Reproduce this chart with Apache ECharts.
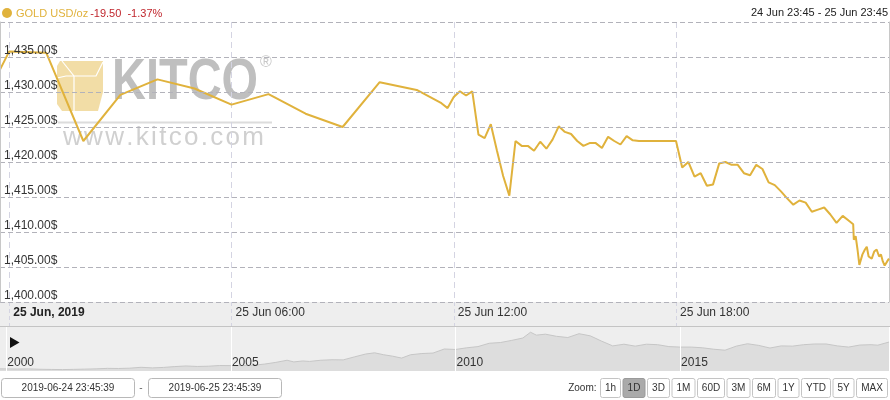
<!DOCTYPE html>
<html><head><meta charset="utf-8">
<script src="https://cdn.jsdelivr.net/npm/echarts@6/dist/echarts.min.js"></script>
<style>html,body{margin:0;padding:0;background:#fff}#c{width:890px;height:400px}</style>
</head><body><div id="c"></div>
<script>
// ---- Data ----
const priceTimes = [
 '2019-06-24 23:45','2019-06-25 00:00','2019-06-25 01:00','2019-06-25 02:00','2019-06-25 03:00',
 '2019-06-25 04:00','2019-06-25 05:00','2019-06-25 06:00','2019-06-25 07:00','2019-06-25 08:00',
 '2019-06-25 09:00','2019-06-25 10:00','2019-06-25 11:00','2019-06-25 11:40','2019-06-25 11:50',
 '2019-06-25 12:00','2019-06-25 12:10','2019-06-25 12:20','2019-06-25 12:30','2019-06-25 12:40',
 '2019-06-25 12:50','2019-06-25 13:00','2019-06-25 13:10','2019-06-25 13:20','2019-06-25 13:30',
 '2019-06-25 13:40','2019-06-25 13:50','2019-06-25 14:00','2019-06-25 14:10','2019-06-25 14:20',
 '2019-06-25 14:30','2019-06-25 14:40','2019-06-25 14:50','2019-06-25 15:00','2019-06-25 15:10',
 '2019-06-25 15:20','2019-06-25 15:30','2019-06-25 15:40','2019-06-25 15:50','2019-06-25 16:00',
 '2019-06-25 16:10','2019-06-25 16:20','2019-06-25 16:30','2019-06-25 16:40','2019-06-25 16:50',
 '2019-06-25 17:00','2019-06-25 18:00','2019-06-25 18:10','2019-06-25 18:20','2019-06-25 18:30',
 '2019-06-25 18:40','2019-06-25 18:50','2019-06-25 19:00','2019-06-25 19:10','2019-06-25 19:20',
 '2019-06-25 19:30','2019-06-25 19:40','2019-06-25 19:50','2019-06-25 20:00','2019-06-25 20:10',
 '2019-06-25 20:20','2019-06-25 20:30','2019-06-25 20:40','2019-06-25 20:50','2019-06-25 21:00',
 '2019-06-25 21:10','2019-06-25 21:20','2019-06-25 21:30','2019-06-25 21:40','2019-06-25 21:50',
 '2019-06-25 22:00','2019-06-25 22:10','2019-06-25 22:20','2019-06-25 22:30','2019-06-25 22:40',
 '2019-06-25 22:47','2019-06-25 22:48','2019-06-25 22:51','2019-06-25 22:54','2019-06-25 22:57',
 '2019-06-25 22:59','2019-06-25 23:02','2019-06-25 23:06','2019-06-25 23:09','2019-06-25 23:12',
 '2019-06-25 23:17','2019-06-25 23:21','2019-06-25 23:25','2019-06-25 23:29','2019-06-25 23:32',
 '2019-06-25 23:35','2019-06-25 23:38','2019-06-25 23:42','2019-06-25 23:45'
];
const priceValues = [
 1433.2,1435.8,1435.6,1423.0,1429.6,
 1431.8,1430.5,1428.2,1429.7,1426.9,
 1425.0,1431.4,1430.3,1428.4,1427.7,
 1429.3,1430.1,1429.5,1430.1,1423.9,
 1423.4,1425.4,1421.6,1418.0,1415.2,
 1423.0,1422.3,1422.3,1421.6,1422.9,
 1421.9,1423.2,1425.1,1424.3,1424.0,
 1423.0,1422.3,1422.7,1422.7,1422.0,
 1423.6,1423.0,1422.5,1423.7,1423.1,
 1423.0,1423.0,1419.2,1420.0,1417.9,
 1418.4,1416.6,1416.8,1419.8,1420.0,
 1419.6,1419.6,1418.4,1418.1,1419.6,
 1419.0,1417.1,1416.7,1415.8,1414.8,
 1413.9,1414.5,1414.2,1412.9,1413.2,
 1413.5,1412.5,1411.3,1412.3,1411.6,
 1411.1,1408.9,1409.4,1407.5,1405.3,
 1405.3,1406.8,1407.5,1407.9,1406.5,
 1406.2,1407.2,1407.5,1406.5,1406.8,
 1405.8,1405.2,1405.8,1406.2
];
const xRange = ['2019-06-24 23:45','2019-06-25 23:45'];
const xTickTimes = ['2019-06-25 00:00','2019-06-25 06:00','2019-06-25 12:00','2019-06-25 18:00'];
const xTickLabels = ['25 Jun, 2019','25 Jun 06:00','25 Jun 12:00','25 Jun 18:00'];
const yMin = 1400, yMax = 1440, yStep = 5;

const navRange = [1999.86, 2019.65];
const navYears = [
 1999.86,2000.0,2000.25,2000.5,2000.75,2001.0,2001.25,2001.5,2001.75,2002.0,2002.25,2002.5,2002.75,
 2003.0,2003.25,2003.5,2003.75,2004.0,2004.25,2004.5,2004.75,2005.0,2005.25,2005.5,2005.75,
 2006.0,2006.25,2006.4,2006.6,2006.75,2007.0,2007.25,2007.5,2007.75,2008.0,2008.2,2008.4,2008.6,2008.8,
 2009.0,2009.25,2009.5,2009.75,2010.0,2010.25,2010.5,2010.75,2011.0,2011.25,2011.5,2011.67,2011.8,2012.0,
 2012.25,2012.5,2012.75,2013.0,2013.25,2013.5,2013.75,2014.0,2014.25,2014.5,2014.75,2015.0,
 2015.25,2015.5,2015.75,2016.0,2016.25,2016.5,2016.75,2017.0,2017.25,2017.5,2017.75,2018.0,
 2018.25,2018.5,2018.75,2019.0,2019.25,2019.4,2019.65
];
const navPrices = [
 290,288,282,288,272,265,260,268,278,290,310,305,318,
 355,330,350,385,410,390,400,430,425,428,440,490,
 560,650,580,620,600,650,670,665,790,910,960,880,820,740,
 880,930,950,1120,1100,1170,1220,1360,1390,1480,1580,1820,1700,1740,
 1650,1600,1760,1670,1450,1250,1320,1240,1320,1300,1220,1200,
 1200,1170,1110,1070,1240,1340,1270,1160,1250,1240,1300,1330,
 1330,1250,1200,1285,1300,1280,1410
];
const navTickYears = [2000, 2005, 2010, 2015];
const navYearLabels = ['2000','2005','2010','2015'];

const seriesName = 'GOLD USD/oz';
const changeText = '-19.50  -1.37%';
const rangeText = '24 Jun 23:45 - 25 Jun 23:45';
const fromInput = '2019-06-24 23:45:39';
const toInput = '2019-06-25 23:45:39';
const zoomButtons = ['1h','1D','3D','1M','60D','3M','6M','1Y','YTD','5Y','MAX'];
const activeButton = '1D';

// ---- Helpers ----
function toTs(s){
  const [d,t] = s.split(' ');
  const [Y,M,D] = d.split('-').map(Number);
  const [h,m] = t.split(':').map(Number);
  return Date.UTC(Y,M-1,D,h,m);
}
const FONT = 'Liberation Sans, Arial, sans-serif';
const GOLD = '#e0b23c';
const mctx = document.createElement('canvas').getContext('2d');
function tw(text, size, weight){ mctx.font = (weight||'normal')+' '+size+'px '+FONT; return mctx.measureText(text).width; }

const mainData = priceTimes.map((t,i)=>[toTs(t), priceValues[i]]);
const navData = navYears.map((y,i)=>[y, navPrices[i]]);
const tickVals = xTickTimes.map(toTs);

// ---- Graphics (decoration/UI) ----
const g = [];
g.push({type:'rect', z:-10, shape:{x:0,y:302,width:890,height:24}, style:{fill:'#eeeeee'}});
g.push({type:'line', z:-9, shape:{x1:0,y1:326.5,x2:890,y2:326.5}, style:{stroke:'#c4c4c4',lineWidth:1}});
// header
g.push({type:'circle', z:10, shape:{cx:7,cy:13,r:5}, style:{fill:GOLD}});
g.push({type:'text', z:10, x:16, y:14, style:{text:seriesName, fill:GOLD, font:'11px '+FONT, verticalAlign:'middle'}});
g.push({type:'text', z:10, x:16+tw(seriesName,11)+2, y:14, style:{text:changeText, fill:'#c0262d', font:'11px '+FONT, verticalAlign:'middle'}});
g.push({type:'text', z:10, x:888, y:13, style:{text:rangeText, fill:'#222', font:'11px '+FONT, align:'right', verticalAlign:'middle'}});
// watermark
g.push({type:'polygon', z:-5, shape:{points:[[60,61],[103,61],[103,92],[98,111],[62,111],[57,104],[57,66]]}, style:{fill:'#f1d99c', opacity:0.9}});
g.push({type:'polyline', z:-5, shape:{points:[[74,111],[74,76],[96,76],[103,62]]}, style:{stroke:'#fff', lineWidth:1.2, fill:null}});
g.push({type:'polyline', z:-5, shape:{points:[[57,78],[66,76],[74,76]]}, style:{stroke:'#fff', lineWidth:1.2, fill:null}});
g.push({type:'polyline', z:-5, shape:{points:[[74,76],[66,66],[62,61]]}, style:{stroke:'#fff', lineWidth:1.2, fill:null}});
g.push({type:'text', z:-5, x:112, y:83, scaleX:0.81, style:{text:'KITCO', fill:'#bfbfbf', font:'bold 58px '+FONT, verticalAlign:'middle'}});
g.push({type:'text', z:-5, x:260, y:63, style:{text:'®', fill:'#c8c8c8', font:'16px '+FONT, verticalAlign:'middle'}});
g.push({type:'rect', z:-5, shape:{x:58,y:121.5,width:214,height:2}, style:{fill:'#dcdcdc'}});
(function(){
  const s = 'www.kitco.com'; let x = 63;
  for (const ch of s){
    g.push({type:'text', z:-5, x:x, y:138, style:{text:ch, fill:'#d0d0d0', font:'26px '+FONT, verticalAlign:'middle'}});
    x += tw(ch,26) + 2.3;
  }
})();
// navigator play icon
g.push({type:'polygon', z:10, shape:{points:[[10,337],[19.5,342.5],[10,348]]}, style:{fill:'#111'}});
// date inputs
g.push({type:'rect', z:10, shape:{x:1.5,y:378.5,width:133,height:19,r:3}, style:{fill:'#fff',stroke:'#b8b8b8'}});
g.push({type:'text', z:10, x:68, y:388.5, style:{text:fromInput, fill:'#333', font:'10px '+FONT, align:'center', verticalAlign:'middle'}});
g.push({type:'text', z:10, x:141, y:388.5, style:{text:'-', fill:'#666', font:'10px '+FONT, align:'center', verticalAlign:'middle'}});
g.push({type:'rect', z:10, shape:{x:148.5,y:378.5,width:133,height:19,r:3}, style:{fill:'#fff',stroke:'#b8b8b8'}});
g.push({type:'text', z:10, x:215, y:388.5, style:{text:toInput, fill:'#333', font:'10px '+FONT, align:'center', verticalAlign:'middle'}});
// zoom buttons
(function(){
  let right = 887.5;
  const boxes = [];
  for (let i = zoomButtons.length-1; i>=0; i--){
    const w = Math.round(tw(zoomButtons[i],10) + 9);
    boxes.unshift([zoomButtons[i], right - w, w]);
    right = right - w - 2.5;
  }
  boxes.forEach(([lab,x,w])=>{
    const act = lab===activeButton;
    g.push({type:'rect', z:10, shape:{x:x,y:378.5,width:w,height:19,r:2}, style:{fill:act?'#aaaaaa':'#fff', stroke:act?'#9a9a9a':'#c4c4c4'}});
    g.push({type:'text', z:11, x:x+w/2, y:388.5, style:{text:lab, fill:'#333', font:'10px '+FONT, align:'center', verticalAlign:'middle'}});
  });
  g.push({type:'text', z:10, x:boxes[0][1]-4, y:388.5, style:{text:'Zoom:', fill:'#333', font:'10px '+FONT, align:'right', verticalAlign:'middle'}});
})();

const fmtPrice = v => Number(v).toLocaleString('en-US',{minimumFractionDigits:2, maximumFractionDigits:2}) + '$';

const chart = echarts.init(document.getElementById('c'), null, {renderer:'canvas'});
chart.setOption({
  animation:false,
  backgroundColor:'#fff',
  grid:[
    {left:0, right:1, top:22, bottom:98},
    {left:0, right:1, top:327, bottom:29, show:true, backgroundColor:'#eeeeee', borderWidth:0}
  ],
  xAxis:[
    {type:'value', gridIndex:0, min:toTs(xRange[0]), max:toTs(xRange[1]),
     axisLine:{show:false},
     axisTick:{show:true, length:24, customValues:tickVals, lineStyle:{color:'#d4d4e2', type:[4,3]}},
     splitLine:{show:true, lineStyle:{color:'#d4d4e2', type:[6,4]}},
     axisLabel:{customValues:tickVals, margin:5, align:'left', padding:[0,0,0,4], fontSize:12, color:'#333', fontFamily:FONT,
       formatter: v => { const i = tickVals.indexOf(v);
         return i===0 ? '{b|'+xTickLabels[0]+'}' : (xTickLabels[i]||''); },
       rich:{b:{fontWeight:'bold', fontSize:12, color:'#222', fontFamily:FONT}}}
    },
    {type:'value', gridIndex:1, min:navRange[0], max:navRange[1], z:10,
     axisLine:{show:false}, axisTick:{show:false, customValues:navTickYears},
     splitLine:{show:true, lineStyle:{color:'#ffffff', width:1}},
     axisLabel:{customValues:navTickYears, inside:true, margin:2, align:'left', padding:[0,0,0,1], verticalAlign:'bottom', fontSize:12, color:'#333', fontFamily:FONT,
       formatter: v => navYearLabels[navTickYears.indexOf(v)] || ''}
    }
  ],
  yAxis:[
    {type:'value', gridIndex:0, min:yMin, max:yMax, interval:yStep, position:'left', z:6,
     axisLine:{show:true, lineStyle:{color:'#c8c8c8'}}, axisTick:{show:false},
     splitLine:{show:true, lineStyle:{color:'#b2b2ba', type:[5,3]}},
     axisLabel:{inside:true, margin:4, verticalAlign:'bottom', lineHeight:12, padding:[0,0,0,0], fontSize:12, color:'#333', fontFamily:FONT,
       showMaxLabel:false, formatter: fmtPrice}
    },
    {type:'value', gridIndex:0, min:yMin, max:yMax, position:'right',
     axisLine:{show:true, lineStyle:{color:'#c8c8c8'}}, axisTick:{show:false}, axisLabel:{show:false}, splitLine:{show:false}},
    {type:'value', gridIndex:1, min:200, max:2040, show:false, splitLine:{show:false}}
  ],
  series:[
    {type:'line', name:seriesName, xAxisIndex:0, yAxisIndex:0, data:mainData, showSymbol:false, z:5,
     lineStyle:{color:GOLD, width:2}, itemStyle:{color:GOLD}},
    {type:'line', xAxisIndex:1, yAxisIndex:2, data:navData, showSymbol:false,
     lineStyle:{color:'#c6c6c6', width:1}, areaStyle:{color:'#dddddd', opacity:1}, itemStyle:{color:'#c6c6c6'}}
  ],
  graphic:{elements:g}
});
</script>
</body></html>
